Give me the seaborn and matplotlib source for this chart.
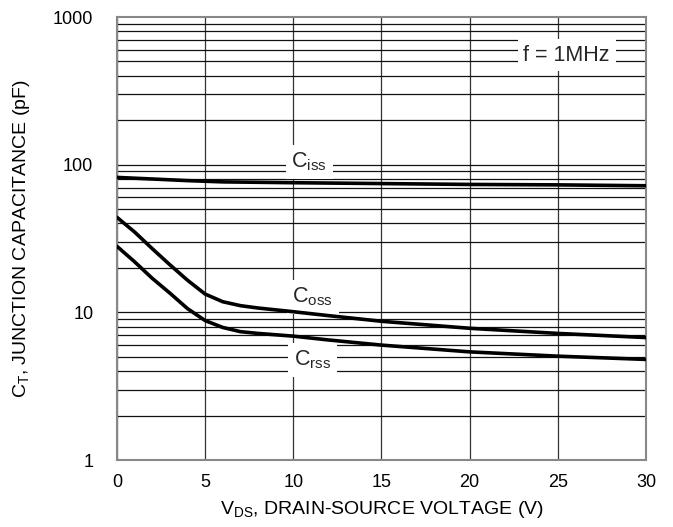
import matplotlib
matplotlib.use("Agg")
import matplotlib.pyplot as plt
import seaborn as sns
import pandas as pd
import numpy as np
from matplotlib.ticker import FixedLocator, FixedFormatter

sns.set_theme(style="white")
plt.rcParams['font.family'] = ['Liberation Sans', 'DejaVu Sans']
plt.rcParams['mathtext.fontset'] = 'custom'
plt.rcParams['mathtext.rm'] = 'Liberation Sans'
plt.rcParams['mathtext.it'] = 'Liberation Sans'

ciss_v = [0, 2, 4, 6, 8, 10, 15, 20, 25, 30]
ciss_c = [82, 80, 78, 76.5, 76, 75.5, 74.5, 73.5, 73, 72]

coss_v = [0, 1, 2, 3, 4, 5, 6, 7, 8, 10, 12, 15, 20, 25, 30]
coss_c = [44, 35, 27, 21, 16.5, 13.3, 11.8, 11.1, 10.7, 10.1, 9.5, 8.7, 7.8, 7.2, 6.75]

crss_v = [0, 1, 2, 3, 4, 5, 6, 7, 8, 10, 12, 15, 20, 25, 30]
crss_c = [28, 22, 17, 13.5, 10.6, 8.8, 7.9, 7.4, 7.2, 6.9, 6.5, 6.0, 5.4, 5.05, 4.8]

x_ticks = [0, 5, 10, 15, 20, 25, 30]
y_ticks = [1, 10, 100, 1000]
y_tick_labels = ["1", "10", "100", "1000"]

df = pd.concat([
    pd.DataFrame({"V": ciss_v, "C": ciss_c, "s": "Ciss"}),
    pd.DataFrame({"V": coss_v, "C": coss_c, "s": "Coss"}),
    pd.DataFrame({"V": crss_v, "C": crss_c, "s": "Crss"}),
])

fig = plt.figure(figsize=(6.73, 5.27), dpi=100)
ax = fig.add_axes([0.1738, 0.1271, 0.7861, 0.8406])
ax.set_yscale("log")
ax.set_xlim(0, 30)
ax.set_ylim(1, 1000)

# grid
for xv in x_ticks:
    ax.axvline(xv, color="#333333", lw=0.9, zorder=1)
for dec in [1, 10, 100]:
    for m in range(1, 10):
        ax.axhline(dec * m, color="#111111", lw=0.9, zorder=1)

sns.lineplot(data=df, x="V", y="C", units="s", estimator=None, color="black",
             lw=2.6, ax=ax, zorder=3, legend=False)

ax.xaxis.set_major_locator(FixedLocator(x_ticks))
ax.yaxis.set_major_locator(FixedLocator(y_ticks))
ax.yaxis.set_major_formatter(FixedFormatter(y_tick_labels))
ax.yaxis.set_minor_locator(FixedLocator([]))
ax.tick_params(axis="x", labelsize=13, length=0, pad=10, colors="black")
ax.tick_params(axis="y", labelsize=13, length=0, pad=17, colors="black")

for sp in ax.spines.values():
    sp.set_color("#888888")
    sp.set_linewidth(1.5)
    sp.set_visible(True)

ax.set_xlabel(r"V$_{\rm DS}$, DRAIN-SOURCE VOLTAGE (V)", fontsize=14, color="black", labelpad=6)
ax.set_ylabel(r"C$_{\rm T}$, JUNCTION CAPACITANCE (pF)", fontsize=14, color="black", labelpad=15)

box = dict(facecolor="white", edgecolor="none", pad=4)
ax.text(10.9, 104, r"C$_{\rm iss}$", fontsize=15.5, ha="center", va="center", bbox=box, zorder=2)
ax.text(11.1, 12.7, r"C$_{\rm oss}$", fontsize=15.5, ha="center", va="center", bbox=box, zorder=2)
ax.text(11.1, 4.75, r"C$_{\rm rss}$", fontsize=15.5, ha="center", va="center", bbox=box, zorder=2)
ax.text(25.5, 552, "f = 1MHz", fontsize=15.5, ha="center", va="center", bbox=box, zorder=2)

fig.savefig("out.png", dpi=100)
